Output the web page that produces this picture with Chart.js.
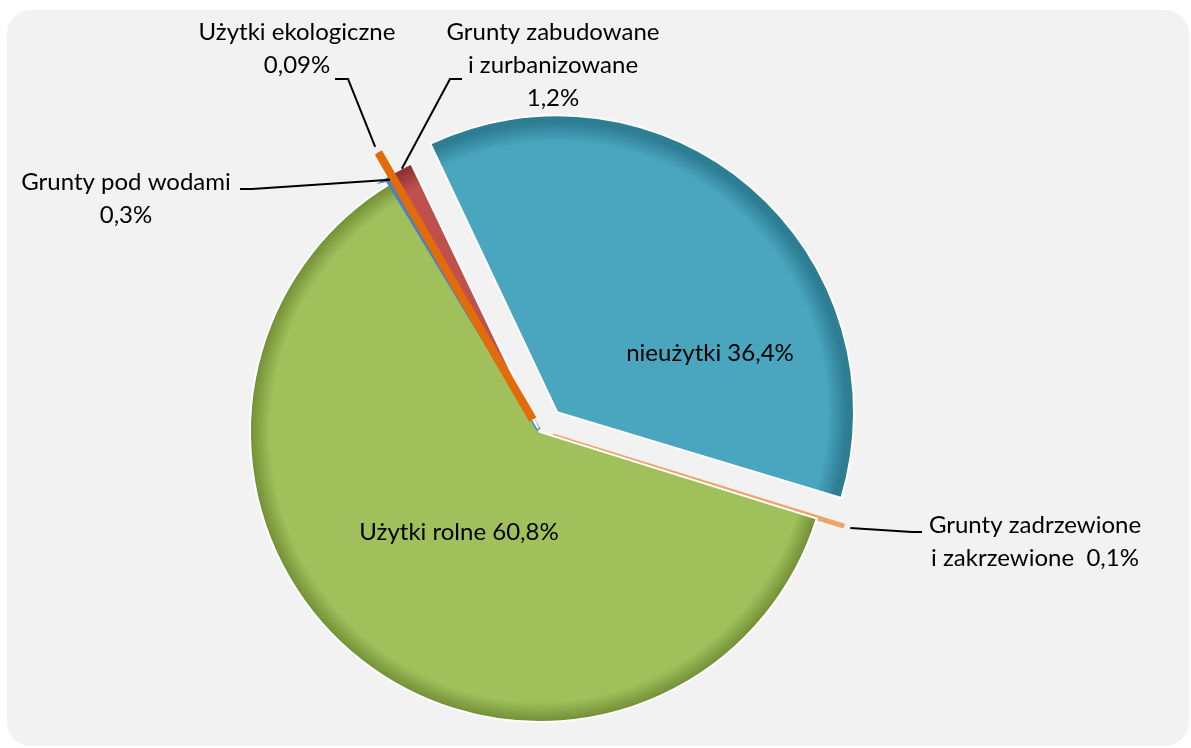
<!DOCTYPE html>
<html lang="pl">
<head>
<meta charset="utf-8">
<script src="https://cdn.jsdelivr.net/npm/chart.js@4"></script>
<style>
  html, body { margin: 0; padding: 0; background: #ffffff; }
  #wrap { position: relative; width: 1191px; height: 748px; }
  #panel { position: absolute; left: 7px; top: 10px; width: 1182px; height: 736px;
           background: #f2f2f2; border-radius: 24px; }
  #box { position: absolute; left: 0; top: 0; width: 1191px; height: 748px; }
</style>
</head>
<body>
<div id="wrap">
  <div id="panel"></div>
  <div id="box"><canvas id="landChart"></canvas></div>
</div>
<script>
document.addEventListener('DOMContentLoaded', function () {
  // Data (shares in %)
  const categories = [
    ['nieużytki'],
    ['Grunty zadrzewione', 'i zakrzewione '],
    ['Użytki rolne'],
    ['Grunty pod wodami'],
    ['Użytki ekologiczne'],
    ['Grunty zabudowane', 'i zurbanizowane']
  ];
  const shares = [36.4, 0.1, 60.8, 0.3, 0.09, 1.2];
  const shareLabels = ['36,4%', '0,1%', '60,8%', '0,3%', '0,09%', '1,2%'];

  // Styling
  const colors = ['#4aa6bf', '#eea468', '#a0c05c', '#4f81bd', '#e36c0a', '#c0504d'];
  const edgeColors = ['#2d7d93', '#c87a3a', '#718e34', '#335f94', '#a84c05', '#8e3431'];
  // Chart.js scales the offset internally (about /4 .. /2), so these are larger than the pixel gap
  const offsets = [105, 52, 0, 10, 58, 16];
  const borderWidths = [2, 5, 2, 4, 8, 2];
  const borderColors = ['#ffffff', '#eea468', '#ffffff', '#4f81bd', '#e36c0a', '#ffffff'];
  const RADIUS = 290;
  const ON_TOP = 4; // Użytki ekologiczne is drawn again above its neighbours

  // Label layout: text anchor, line pitch, value placement, leader kink
  const labelLayout = [
    { x: 710, y: 353, inline: true },
    { x: 1035, y: 525, lastInline: true, leader: [[922, 532], [912, 532]] },
    { x: 459, y: 532, inline: true },
    { x: 126, y: 182, leader: [[240, 189], [252, 189]] },
    { x: 297, y: 32, leader: [[335, 79], [348, 79]] },
    { x: 553, y: 32, leader: [[462, 79], [450, 79]] }
  ];
  const LINE = 33;
  const FONT = '24px Lato, "Open Sans", sans-serif';

  const bevelFill = (context) => {
    const i = context.dataIndex;
    const chart = context.chart;
    const area = chart.chartArea;
    if (!area || i === undefined) return colors[i || 0];
    const cx = (area.left + area.right) / 2;
    const cy = (area.top + area.bottom) / 2;
    const g = chart.ctx.createRadialGradient(cx, cy, 0, cx, cy, RADIUS);
    g.addColorStop(0, colors[i]);
    g.addColorStop(0.93, colors[i]);
    g.addColorStop(1, edgeColors[i]);
    return g;
  };

  // outer tip of an exploded arc, same shift rule as Chart.js ArcElement.draw
  const arcTip = (arc, off) => {
    const mid = (arc.startAngle + arc.endAngle) / 2;
    const circ = arc.endAngle - arc.startAngle;
    const o = off / 4;
    const fix = 1 - Math.sin(Math.min(Math.PI, circ));
    const r = arc.outerRadius + o + 2 * o * fix - 4;
    return [arc.x + Math.cos(mid) * r, arc.y + Math.sin(mid) * r];
  };

  const labelPlugin = {
    id: 'landLabels',
    afterDatasetsDraw(chart) {
      const ctx = chart.ctx;
      const arcs = chart.getDatasetMeta(0).data;
      arcs[ON_TOP].draw(ctx, chart.chartArea);

      ctx.save();
      ctx.font = FONT;
      ctx.fillStyle = '#000000';
      ctx.textAlign = 'center';
      ctx.textBaseline = 'middle';
      labelLayout.forEach((lay, i) => {
        let lines;
        if (lay.inline) {
          lines = [categories[i][0] + ' ' + shareLabels[i]];
        } else if (lay.lastInline) {
          lines = categories[i].slice();
          lines[lines.length - 1] += ' ' + shareLabels[i];
        } else {
          lines = categories[i].concat([shareLabels[i]]);
        }
        lines.forEach((t, k) => ctx.fillText(t, lay.x, lay.y + k * LINE));

        if (lay.leader) {
          const [tx, ty] = arcTip(arcs[i], offsets[i]);
          ctx.beginPath();
          ctx.strokeStyle = '#000000';
          ctx.lineWidth = 2;
          ctx.moveTo(lay.leader[0][0], lay.leader[0][1]);
          ctx.lineTo(lay.leader[1][0], lay.leader[1][1]);
          ctx.lineTo(tx, ty);
          ctx.stroke();
        }
      });
      ctx.restore();
    }
  };

  const ctx = document.getElementById('landChart').getContext('2d');
  window.landChart = new Chart(ctx, {
    type: 'pie',
    data: {
      labels: categories,
      datasets: [{
        data: shares,
        backgroundColor: bevelFill,
        borderColor: borderColors,
        borderWidth: borderWidths,
        borderJoinStyle: 'miter',
        offset: offsets,
        radius: RADIUS,
        clip: false
      }]
    },
    options: {
      responsive: true,
      maintainAspectRatio: false,
      animation: false,
      rotation: -25.5,
      layout: { padding: { left: 0, right: 111, top: 116, bottom: 0 } },
      plugins: {
        legend: { display: false },
        tooltip: { enabled: false }
      }
    },
    plugins: [labelPlugin]
  });
});
</script>
</body>
</html>
